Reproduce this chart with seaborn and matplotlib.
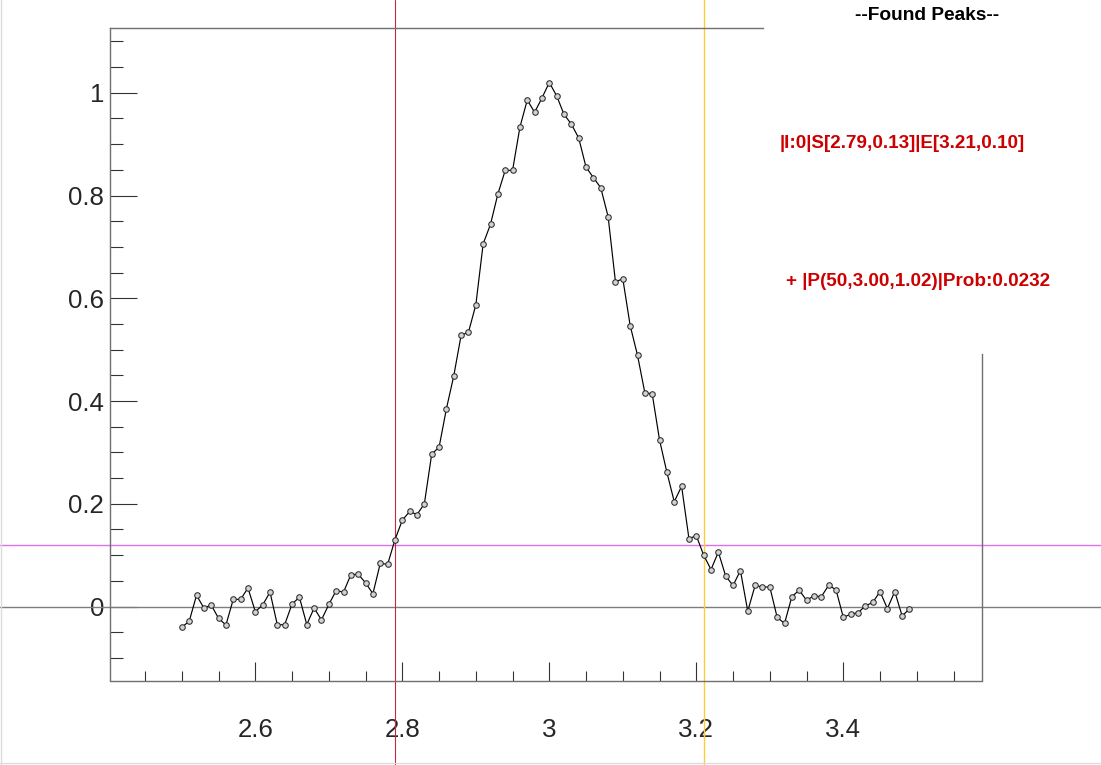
import numpy as np
import pandas as pd
import matplotlib
matplotlib.use("Agg")
import matplotlib.pyplot as plt
import seaborn as sns
from matplotlib.ticker import MultipleLocator, FuncFormatter
from matplotlib.transforms import blended_transform_factory

# ---- data -------------------------------------------------------------
x_start = 2.50
x_step = 0.01
signal = [
    -0.040, -0.029, 0.022, -0.003, 0.003, -0.023, -0.036, 0.014, 0.014, 0.036,
    -0.010, 0.003, 0.028, -0.036, -0.035, 0.005, 0.018, -0.035, -0.003, -0.026,
    0.004, 0.031, 0.028, 0.062, 0.063, 0.046, 0.025, 0.084, 0.082, 0.130,
    0.168, 0.185, 0.179, 0.200, 0.297, 0.310, 0.385, 0.449, 0.528, 0.534,
    0.587, 0.706, 0.744, 0.803, 0.849, 0.849, 0.933, 0.986, 0.962, 0.990,
    1.020, 0.994, 0.958, 0.939, 0.912, 0.855, 0.835, 0.815, 0.759, 0.632,
    0.638, 0.547, 0.489, 0.416, 0.414, 0.324, 0.261, 0.204, 0.234, 0.132,
    0.138, 0.100, 0.072, 0.106, 0.059, 0.041, 0.070, -0.009, 0.041, 0.038,
    0.038, -0.021, -0.033, 0.019, 0.032, 0.012, 0.021, 0.019, 0.041, 0.033,
    -0.021, -0.015, -0.012, 0.001, 0.008, 0.029, -0.004, 0.029, -0.018, -0.005,
]
x_vals = np.round(x_start + x_step * np.arange(len(signal)), 2)

# found peak summary
peak_index = 50
peak_x = 3.00
peak_y = 1.02
prob = 0.0232
start_x, start_y = 2.79, 0.13
end_x, end_y = 3.21, 0.10
threshold = 0.12

# ---- style ------------------------------------------------------------
sns.set_style("white")
plt.rcParams["font.family"] = ["Liberation Sans", "DejaVu Sans"]

W, H = 1101, 765
fig = plt.figure(figsize=(W / 100, H / 100), dpi=100)
fig.patch.set_facecolor("white")

left_px, right_px, top_px, bottom_px = 109.5, 981.7, 27.8, 680.5
ax = fig.add_axes([left_px / W, 1 - bottom_px / H,
                   (right_px - left_px) / W, (bottom_px - top_px) / H])

df = pd.DataFrame({"x": x_vals, "y": signal})
sns.lineplot(data=df, x="x", y="y", ax=ax, estimator=None, sort=False,
             color="black", lw=0.85, marker="o", markersize=4.0,
             markerfacecolor="#d2d2d2", markeredgecolor="#2b2b2b",
             markeredgewidth=0.75, zorder=3)

xlim = (2.4016, 3.5883)
ylim = (-0.1440, 1.1265)

# reference lines spanning the whole canvas
vtrans = blended_transform_factory(ax.transData, fig.transFigure)
htrans = blended_transform_factory(fig.transFigure, ax.transData)
ax.plot([0, 1], [0, 0], transform=htrans, color="#7d7d7d", lw=1.0,
        clip_on=False, zorder=1)
ax.plot([0, 1], [threshold, threshold], transform=htrans, color="#dd70ee",
        lw=1.0, clip_on=False, zorder=1)
ax.plot([start_x, start_x], [0, 1], transform=vtrans, color="#c42a3a",
        lw=0.8, clip_on=False, zorder=1)
ax.plot([end_x, end_x], [0, 1], transform=vtrans, color="#ffcc33",
        lw=1.0, clip_on=False, zorder=1)

ax.set_xlim(*xlim)
ax.set_ylim(*ylim)

# ---- axes frame ---------------------------------------------------------
for side in ["left", "bottom", "top", "right"]:
    ax.spines[side].set_visible(True)
    ax.spines[side].set_color("#707070")
    ax.spines[side].set_linewidth(1.0)
ax.spines["top"].set_bounds(xlim[0], 3.2907)
ax.spines["right"].set_bounds(ylim[0], 0.4914)

ax.xaxis.set_major_locator(MultipleLocator(0.2))
ax.xaxis.set_minor_locator(MultipleLocator(0.05))
ax.yaxis.set_major_locator(MultipleLocator(0.2))
ax.yaxis.set_minor_locator(MultipleLocator(0.05))
fmt = FuncFormatter(lambda v, p: f"{round(v, 6) + 0:g}")
ax.xaxis.set_major_formatter(fmt)
ax.yaxis.set_major_formatter(fmt)

ax.tick_params(axis="x", which="major", direction="in", length=13.7,
               width=0.8, color="#333333", labelsize=18.6, pad=27,
               top=False, bottom=True)
ax.tick_params(axis="x", which="minor", direction="in", length=7.2,
               width=0.8, color="#333333", top=False, bottom=True)
ax.tick_params(axis="y", which="major", direction="in", length=19.4,
               width=0.8, color="#333333", labelsize=18.6, pad=4,
               left=True, right=False)
ax.tick_params(axis="y", which="minor", direction="in", length=9.4,
               width=0.8, color="#333333", left=True, right=False)
ax.set_xlabel("")
ax.set_ylabel("")
ax.grid(False)

# ---- peak summary text ------------------------------------------------
def fx(px):
    return px / W

def fy(py):
    return 1 - py / H

fig.text(fx(927.5), fy(16), "--Found Peaks--", ha="center", va="center",
         fontsize=13.8, fontweight="bold", color="black")
fig.text(fx(902.5), fy(144),
         f"|I:0|S[{start_x:.2f},{start_y:.2f}]|E[{end_x:.2f},{end_y:.2f}]",
         ha="center", va="center", fontsize=13.6, fontweight="bold",
         color="#cc0000")
fig.text(fx(918), fy(281),
         f"+ |P({peak_index},{peak_x:.2f},{peak_y:.2f})|Prob:{prob:.4f}",
         ha="center", va="center", fontsize=13.6, fontweight="bold",
         color="#cc0000")

# faint canvas border on left and bottom
fig.add_artist(plt.Line2D([0.0005, 0.0005], [0, 1], transform=fig.transFigure,
                          color="#dcdcdc", lw=1.0))
fig.add_artist(plt.Line2D([0, 1], [fy(762.5), fy(762.5)],
                          transform=fig.transFigure, color="#dcdcdc", lw=1.0))

fig.savefig("out.png", dpi=100, facecolor="white")
